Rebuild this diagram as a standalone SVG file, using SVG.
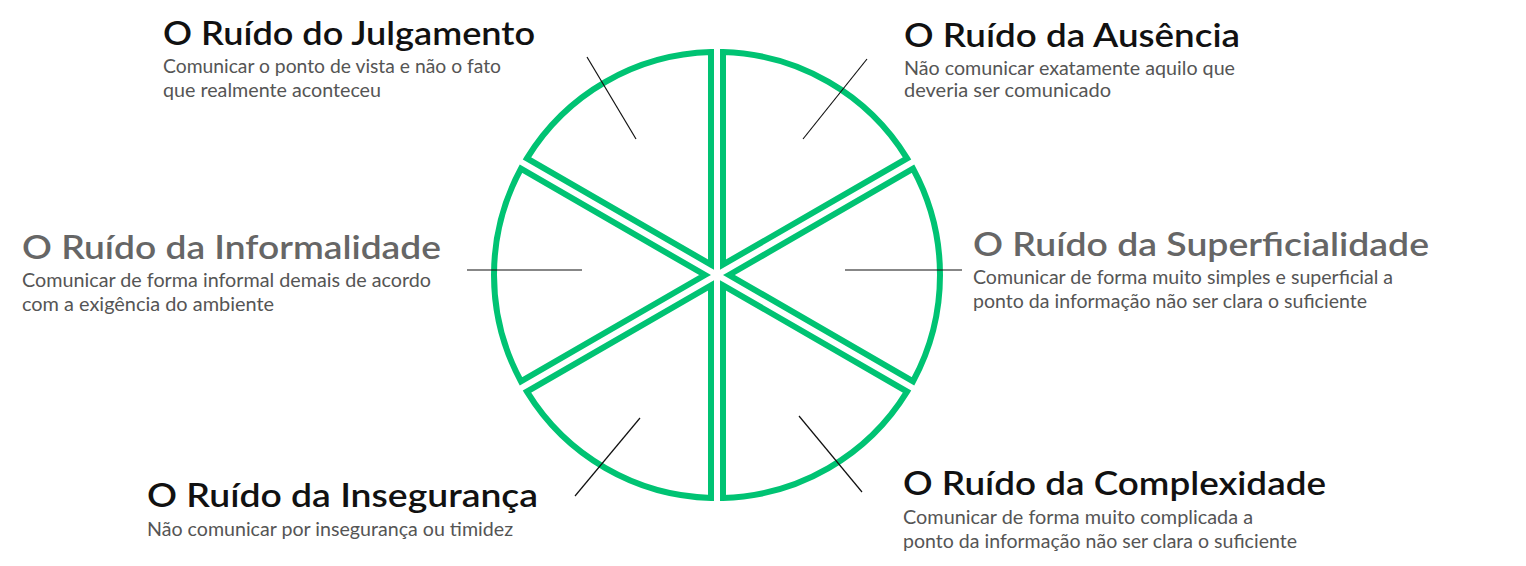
<svg xmlns="http://www.w3.org/2000/svg" width="1526" height="566" viewBox="0 0 1526 566">
<style>
.w{fill:none;stroke:#00C373;stroke-width:6;stroke-linejoin:miter}
.t{font-family:Lato,"Liberation Sans",sans-serif;font-size:33px;font-weight:600;fill:#111}
.g{fill:#666}
.s{font-family:Lato,"Liberation Sans",sans-serif;font-size:18.5px;fill:#555}
.l{stroke:#111;stroke-width:1.2}
</style>
<defs>
<path id="wedge" class="w" d="M6,-10.39 L6,-222.92 A223 223 0 0 1 190.05,-116.66 Z"/>
</defs>
<rect width="1526" height="566" fill="#fff"/>
<g id="wheel" transform="translate(717,275)">
<use href="#wedge"/>
<use href="#wedge" transform="rotate(60)"/>
<use href="#wedge" transform="rotate(120)"/>
<use href="#wedge" transform="rotate(180)"/>
<use href="#wedge" transform="rotate(240)"/>
<use href="#wedge" transform="rotate(300)"/>
</g>
<g id="connectors">
<line class="l" x1="587" y1="57" x2="636" y2="139"/>
<line class="l" x1="867" y1="59" x2="803" y2="139"/>
<line class="l" x1="467" y1="270" x2="582" y2="270"/>
<line class="l" x1="845" y1="270" x2="962" y2="270"/>
<line class="l" x1="575" y1="496" x2="640" y2="418"/>
<line class="l" x1="799" y1="416" x2="862" y2="492"/>
</g>
<g id="julgamento">
<text class="t" x="163" y="45" textLength="372" lengthAdjust="spacingAndGlyphs">O Ruído do Julgamento</text>
<text class="s" x="163" y="73" textLength="338" lengthAdjust="spacingAndGlyphs">Comunicar o ponto de vista e não o fato</text>
<text class="s" x="163" y="97" textLength="218" lengthAdjust="spacingAndGlyphs">que realmente aconteceu</text>
</g>
<g id="ausencia">
<text class="t" x="904" y="47" textLength="336" lengthAdjust="spacingAndGlyphs">O Ruído da Ausência</text>
<text class="s" x="904" y="75" textLength="331" lengthAdjust="spacingAndGlyphs">Não comunicar exatamente aquilo que</text>
<text class="s" x="904" y="97" textLength="207" lengthAdjust="spacingAndGlyphs">deveria ser comunicado</text>
</g>
<g id="informalidade">
<text class="t g" x="22" y="259" textLength="419" lengthAdjust="spacingAndGlyphs">O Ruído da Informalidade</text>
<text class="s" x="22" y="287" textLength="409" lengthAdjust="spacingAndGlyphs">Comunicar de forma informal demais de acordo</text>
<text class="s" x="22" y="311" textLength="252" lengthAdjust="spacingAndGlyphs">com a exigência do ambiente</text>
</g>
<g id="superficialidade">
<text class="t g" x="973" y="256" textLength="456" lengthAdjust="spacingAndGlyphs">O Ruído da Superficialidade</text>
<text class="s" x="973" y="284" textLength="420" lengthAdjust="spacingAndGlyphs">Comunicar de forma muito simples e superficial a</text>
<text class="s" x="973" y="308" textLength="394" lengthAdjust="spacingAndGlyphs">ponto da informação não ser clara o suficiente</text>
</g>
<g id="inseguranca">
<text class="t" x="147" y="507" textLength="391" lengthAdjust="spacingAndGlyphs">O Ruído da Insegurança</text>
<text class="s" x="147" y="536" textLength="366" lengthAdjust="spacingAndGlyphs">Não comunicar por insegurança ou timidez</text>
</g>
<g id="complexidade">
<text class="t" x="903" y="495" textLength="423" lengthAdjust="spacingAndGlyphs">O Ruído da Complexidade</text>
<text class="s" x="903" y="524" textLength="350" lengthAdjust="spacingAndGlyphs">Comunicar de forma muito complicada a</text>
<text class="s" x="903" y="548" textLength="394" lengthAdjust="spacingAndGlyphs">ponto da informação não ser clara o suficiente</text>
</g>
</svg>
